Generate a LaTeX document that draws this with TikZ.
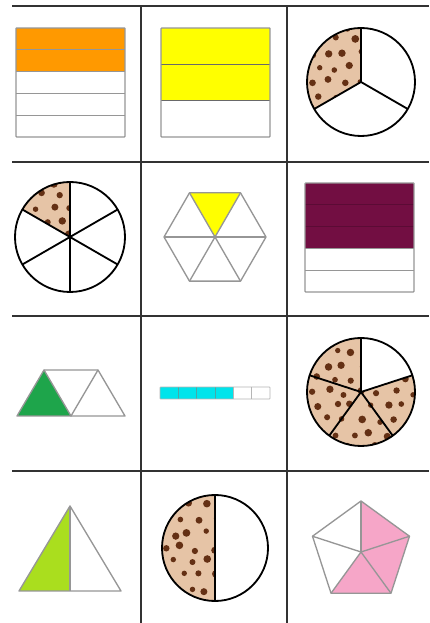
\documentclass[tikz,border=0pt]{standalone}
\usetikzlibrary{calc}
\definecolor{gridgray}{RGB}{50,50,50}
\definecolor{edgegray}{RGB}{150,150,150}
\definecolor{barorange}{RGB}{255,153,0}
\definecolor{baryellow}{RGB}{255,255,0}
\definecolor{barplum}{RGB}{114,14,66}
\definecolor{barcyan}{RGB}{0,228,235}
\definecolor{trigreen}{RGB}{30,165,75}
\definecolor{trilime}{RGB}{170,222,30}
\definecolor{pentpink}{RGB}{246,166,200}
\definecolor{cookie}{RGB}{230,196,166}
\definecolor{chip}{RGB}{100,48,20}

% chocolate chips, drawn round the current origin
\newcommand{\chips}[1]{%
  \pgfmathsetseed{#1}%
  \foreach \i in {-3,...,3}
    \foreach \j in {-4,...,4}
      \fill[chip] ({\i*17+mod(abs(\j),2)*8.5+rand*3.5}, {\j*14+rand*3}) circle ({2.6+rnd*1.3});
}

\begin{document}
\begin{tikzpicture}[x=0.5mm, y=0.5mm,
  gridline/.style={draw=gridgray, line width=3pt},
  stripbox/.style={draw=edgegray, line width=1.9pt, rounded corners=1pt},
  thinedge/.style={draw=edgegray, line width=1.9pt, line join=round},
  cookieline/.style={draw=black, line width=2.6pt}]
\useasboundingbox[fill=white] (0,0) rectangle (429,623);

% grid
\draw[gridline] (12,617) -- (429,617);
\draw[gridline] (12,461) -- (429,461);
\draw[gridline] (12,307) -- (429,307);
\draw[gridline] (12,152) -- (429,152);
\draw[gridline] (141,617) -- (141,0);
\draw[gridline] (287,617) -- (287,0);

% cell centres
\coordinate (c11) at (70,541);  \coordinate (c12) at (215,541);  \coordinate (c13) at (361,541);
\coordinate (c21) at (70,386);  \coordinate (c22) at (215,386);  \coordinate (c23) at (361,386);
\coordinate (c31) at (70,231);  \coordinate (c32) at (215,231);  \coordinate (c33) at (361,231);
\coordinate (c41) at (70,75);   \coordinate (c42) at (215,75);   \coordinate (c43) at (361,71);

% 2/5 orange
\fill[barorange] (16,595) rectangle (125,551.4);
\foreach \k in {1,...,4} \draw[edgegray, line width=1.9pt] (16,595-\k*21.8) -- (125,595-\k*21.8);
\draw[stripbox] (16,595) rectangle (125,486);

% 2/3 yellow
\fill[baryellow] (161,595) rectangle (270,522.3);
\foreach \k in {1,2} \draw[edgegray!70!black, line width=1.9pt] (161,595-\k*36.33) -- (270,595-\k*36.33);
\draw[stripbox] (161,595) rectangle (270,486);

% 1/3 cookie
\begin{scope}[shift={(c13)}]
  \fill[cookie] (0,0) -- (90:54) arc[start angle=90, end angle=210, radius=54] -- cycle;
  \clip (0,0) -- (90:54) arc[start angle=90, end angle=210, radius=54] -- cycle;
  \chips{11}
\end{scope}
\draw[cookieline] (c13) circle (54);
\foreach \a in {90,210,330} \draw[cookieline] (c13) -- ++(\a:54);

% 1/6 cookie
\begin{scope}[shift={(c21)}]
  \fill[cookie] (0,0) -- (90:55) arc[start angle=90, end angle=150, radius=55] -- cycle;
  \clip (0,0) -- (90:55) arc[start angle=90, end angle=150, radius=55] -- cycle;
  \chips{5}
\end{scope}
\draw[cookieline] (c21) circle (55);
\foreach \a in {30,90,...,330} \draw[cookieline] (c21) -- ++(\a:55);

% 1/6 hexagon
\fill[baryellow] (c22) -- ++(60:51) -- ($(c22)+(120:51)$) -- cycle;
\draw[thinedge] ($(c22)+(0:51)$) \foreach \a in {60,120,...,300} { -- ($(c22)+(\a:51)$) } -- cycle;
\foreach \a in {0,60,...,300} \draw[thinedge] (c22) -- ++(\a:51);

% 3/5 plum
\fill[barplum] (305,440) rectangle (414,374.6);
\foreach \k in {1,2} \draw[barplum!80!black, line width=1.5pt] (305,440-\k*21.8) -- (414,440-\k*21.8);
\foreach \k in {3,4} \draw[edgegray, line width=1.9pt] (305,440-\k*21.8) -- (414,440-\k*21.8);
\draw[stripbox] (305,440) rectangle (414,331);

% 1/3 trapezoid
\coordinate (t1) at (17,207);  \coordinate (t2) at (71,207);  \coordinate (t3) at (125,207);
\coordinate (t4) at (44,253);  \coordinate (t5) at (98,253);
\fill[trigreen] (t1) -- (t4) -- (t2) -- cycle;
\draw[thinedge] (t1) -- (t3) -- (t5) -- (t4) -- cycle;
\draw[thinedge] (t4) -- (t2) -- (t5);

% 4/6 bar
\fill[barcyan] (160,224) rectangle (233.3,236);
\foreach \k in {1,2,3} \draw[teal!70, line width=1.1pt] (160+\k*18.33,224) -- (160+\k*18.33,236);
\foreach \k in {4,5} \draw[edgegray!70, line width=1.1pt] (160+\k*18.33,224) -- (160+\k*18.33,236);
\draw[draw=edgegray!70, line width=1.1pt, rounded corners=0.8pt] (160,224) rectangle (270,236);

% 4/5 cookie
\begin{scope}[shift={(c33)}]
  \fill[cookie] (0,0) -- (18:54) arc[start angle=18, end angle=-270, radius=54] -- cycle;
  \clip (0,0) -- (18:54) arc[start angle=18, end angle=-270, radius=54] -- cycle;
  \chips{23}
\end{scope}
\draw[cookieline] (c33) circle (54);
\foreach \a in {90,18,-54,-126,162} \draw[cookieline] (c33) -- ++(\a:54);

% 1/2 triangle
\coordinate (a1) at (19,32);  \coordinate (a2) at (70,32);  \coordinate (a3) at (121,32);
\coordinate (a4) at (70,117);
\fill[trilime] (a1) -- (a4) -- (a2) -- cycle;
\draw[thinedge] (a1) -- (a3) -- (a4) -- cycle;
\draw[thinedge] (a4) -- (a2);

% 1/2 cookie
\begin{scope}[shift={(c42)}]
  \fill[cookie] (0,0) -- (90:53) arc[start angle=90, end angle=270, radius=53] -- cycle;
  \clip (0,0) -- (90:53) arc[start angle=90, end angle=270, radius=53] -- cycle;
  \chips{17}
\end{scope}
\draw[cookieline] (c42) circle (53);
\draw[cookieline] ($(c42)+(90:53)$) -- ($(c42)+(270:53)$);

% 3/5 pentagon
\fill[pentpink] (c43) -- ($(c43)+(90:51)$) -- ($(c43)+(18:51)$) -- ($(c43)+(-54:51)$) -- ($(c43)+(-126:51)$) -- cycle;
\draw[thinedge] ($(c43)+(90:51)$) \foreach \a in {18,-54,-126,162} { -- ($(c43)+(\a:51)$) } -- cycle;
\foreach \a in {90,18,-54,-126,162} \draw[thinedge] (c43) -- ++(\a:51);
\end{tikzpicture}
\end{document}
